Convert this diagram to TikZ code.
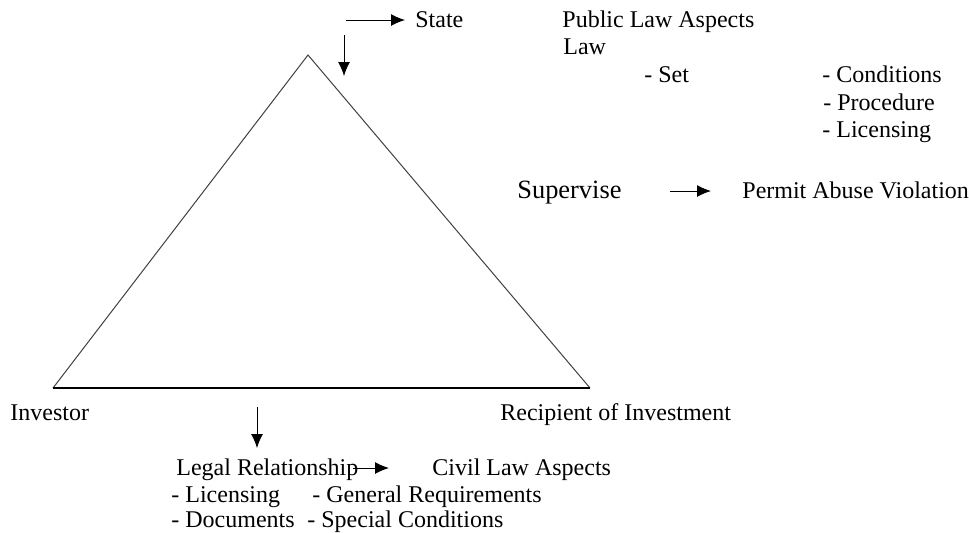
\documentclass[tikz,border=0pt]{standalone}
\usepackage{fontspec}
\setmainfont{Liberation Serif}
\usepackage{tikz}
\usetikzlibrary{positioning,arrows.meta}

\tikzset{
  txt/.style={anchor=base west,inner sep=0pt,font=\fontsize{12}{14}\selectfont},
  bigtxt/.style={txt,font=\fontsize{13.2}{15}\selectfont},
  arr/.style={-{Latex[length=7pt,width=6pt]},line width=0.5pt},
  side/.style={line width=0.5pt,black!75}
}

\begin{document}
\begin{tikzpicture}[x=0.5pt,y=-0.5pt]
	\useasboundingbox (0,0) rectangle (969,532);

	% Triangle corners
	\coordinate (top) at (308,55);
	\coordinate (left) at (53,388);
	\coordinate (right) at (590,388);
	\draw[side] (left) -- (top) -- (right);
	\draw[line width=0.6pt] (left) -- (right);

	% State and public law
	\node[txt] (state) at (415,27) {State};
	\coordinate (statein) at (346,20);
	\draw[arr,shorten >=5pt] (statein) -- (state.west |- statein);
	\coordinate (downA) at (344,35);
	\coordinate (downB) at (344,76);
	\draw[arr] (downA) -- (downB);

	\node[txt] (public) at (562,27) {Public Law Aspects};
	\node[txt] (law) at (563,54) {Law};
	\node[txt] (set) at (644,82) {- Set};
	\node[txt] (cond) at (822,82) {- Conditions};
	\node[txt] (proc) at (823,110) {- Procedure};
	\node[txt] (lic) at (822,137) {- Licensing};

	% Supervision
	\node[bigtxt] (supervise) at (517,198) {Supervise};
	\node[txt] (permit) at (742,198) {Permit Abuse Violation};
	\coordinate (supA) at (670,191);
	\coordinate (supB) at (711,191);
	\draw[arr] (supA) -- (supB);

	% Parties
	\node[txt] (investor) at (10,420) {Investor};
	\node[txt] (recipient) at (500,420) {Recipient of Investment};

	% Civil law side
	\coordinate (relA) at (257,407);
	\coordinate (relB) at (257,448);
	\draw[arr] (relA) -- (relB);
	\node[txt] (legal) at (176,475) {Legal Relationship};
	\node[txt] (civil) at (432,475) {Civil Law Aspects};
	\coordinate (legalout) at (353,468);
	\draw[arr] (legalout) -- (389,468);
	\node[txt] (licensing) at (171,502) {- Licensing};
	\node[txt] (general) at (312,502) {- General Requirements};
	\node[txt] (docs) at (171,527) {- Documents};
	\node[txt] (special) at (307,527) {- Special Conditions};
\end{tikzpicture}
\end{document}
